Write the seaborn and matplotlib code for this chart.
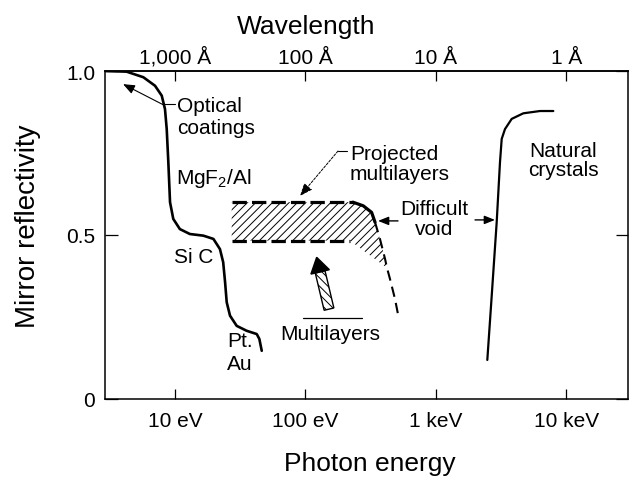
import numpy as np
import pandas as pd
import matplotlib
matplotlib.use("Agg")
import matplotlib.pyplot as plt
import seaborn as sns
from matplotlib.patches import Polygon
from matplotlib.transforms import IdentityTransform
from matplotlib.ticker import NullLocator

# ---------------- data ----------------
coat_energy = [2.91, 4.26, 5.72, 7.03, 7.91, 8.38, 8.64, 8.89, 9.16, 9.70, 10.9, 13.0,
               16.5, 19.7, 22.1, 23.4, 24.2, 24.9, 26.4, 29.7, 35.4, 42.3, 44.3, 46.2]
coat_refl = [1.0, 0.998, 0.981, 0.955, 0.925, 0.884, 0.823, 0.722, 0.600, 0.549, 0.518, 0.503,
             0.498, 0.488, 0.457, 0.417, 0.356, 0.295, 0.254, 0.223, 0.208, 0.198, 0.183, 0.147]

crys_energy = [2473, 2673, 2918, 3093, 3188, 3379, 3803, 4667, 6266, 7924]
crys_refl = [0.119, 0.315, 0.539, 0.722, 0.793, 0.823, 0.854, 0.871, 0.878, 0.878]

proj_top_energy = [27.2, 231, 277, 321, 341, 372, 407, 421, 444, 485, 514]
proj_top_refl = [0.60, 0.60, 0.589, 0.569, 0.539, 0.488, 0.427, 0.40, 0.366, 0.305, 0.254]
proj_bot_energy = [27.2, 219, 421]
proj_bot_refl = [0.483, 0.483, 0.40]

energy_ticks = [10, 100, 1000, 10000]
energy_labels = ["10 eV", "100 eV", "1 keV", "10 keV"]
wl_ticks = [1000, 100, 10, 1]
wl_labels = ["1,000 Å", "100 Å", "10 Å", "1 Å"]
refl_ticks = [0, 0.5, 1.0]
refl_labels = ["0", "0.5", "1.0"]

# ---------------- style ----------------
sns.set_style("ticks")
plt.rcParams["font.family"] = ["Liberation Sans", "DejaVu Sans"]
plt.rcParams["mathtext.default"] = "regular"
plt.rcParams["hatch.linewidth"] = 0.7
plt.rcParams["text.color"] = "black"
plt.rcParams["axes.labelcolor"] = "black"
plt.rcParams["xtick.color"] = "black"
plt.rcParams["ytick.color"] = "black"

fig = plt.figure(figsize=(6.29, 4.81), dpi=100)
ax = fig.add_axes([105 / 629, 81 / 481, 523 / 629, 328 / 481])
ax.set_xscale("log")
ax.set_xlim(2.908, 29600)
ax.set_ylim(0, 1)

# ---------------- curves ----------------
coat_df = pd.DataFrame({"energy": coat_energy, "refl": coat_refl})
crys_df = pd.DataFrame({"energy": crys_energy, "refl": crys_refl})
sns.lineplot(data=coat_df, x="energy", y="refl", ax=ax, color="black", lw=1.9,
             sort=False, estimator=None)
sns.lineplot(data=crys_df, x="energy", y="refl", ax=ax, color="black", lw=1.6,
             sort=False, estimator=None)

# projected multilayer band (hatched)
k = proj_top_energy.index(proj_bot_energy[-1])
poly_e = proj_top_energy[:k + 1] + proj_bot_energy[::-1][1:]
poly_r = proj_top_refl[:k + 1] + proj_bot_refl[::-1][1:]
ax.fill(poly_e, poly_r, facecolor="none", edgecolor="black", hatch="////", lw=0)

ax.plot(proj_top_energy[0:2], proj_top_refl[0:2], color="black", lw=2.3,
        linestyle=(0, (4.5, 1.6)), solid_capstyle="butt")
ax.plot(proj_top_energy[1:5], proj_top_refl[1:5], color="black", lw=2.3)
ax.plot(proj_top_energy[4:], proj_top_refl[4:], color="black", lw=1.5,
        linestyle=(0, (5, 3)))
ax.plot(proj_bot_energy[0:2], proj_bot_refl[0:2], color="black", lw=2.3,
        linestyle=(0, (4.5, 1.6)), solid_capstyle="butt")

# ---------------- axes / ticks ----------------
for s in ax.spines.values():
    s.set_color("black")
    s.set_linewidth(1.1)
ax.set_xticks(energy_ticks, labels=energy_labels)
ax.xaxis.set_minor_locator(NullLocator())
ax.set_yticks(refl_ticks, labels=refl_labels)
ax.tick_params(axis="x", direction="in", length=7, width=0.9, labelsize=15, pad=9,
               colors="black")
ax.tick_params(axis="y", direction="in", length=9, width=0.9, labelsize=15, pad=7,
               right=True, colors="black")

sec = ax.secondary_xaxis("top", functions=(lambda e: 1e4 / np.asarray(e, float),
                                           lambda w: 1e4 / np.asarray(w, float)))
sec.set_xticks(wl_ticks, labels=wl_labels)
sec.xaxis.set_minor_locator(NullLocator())
sec.tick_params(direction="in", length=7, width=0.9, labelsize=15, pad=3, colors="black")
sec.spines["top"].set_linewidth(1.1)
sec.spines["top"].set_color("black")
fig.text(306 / 629, 1 - 15 / 481, "Wavelength", fontsize=19, ha="center", va="top",
         color="black")

ax.set_xlabel("Photon energy", fontsize=19, va="top", color="black")
ax.xaxis.set_label_coords(0.506, -0.160)
ax.set_ylabel("Mirror reflectivity", fontsize=20, color="black")
ax.yaxis.set_label_coords(-0.122, 0.529)

# ---------------- annotations ----------------
fs = 15
ax.text(10.35, 0.924, "Optical\ncoatings", ha="left", va="top", fontsize=fs)
ax.plot([7.95, 10.0], [0.899, 0.899], color="black", lw=0.8)
ax.annotate("", xy=(4.0, 0.960), xytext=(7.95, 0.899),
            arrowprops=dict(arrowstyle="-|>,head_length=0.5,head_width=0.2",
                            color="black", lw=0.8, mutation_scale=14, shrinkA=0, shrinkB=0))
ax.text(10.18, 0.71, "MgF$_2$/Al", ha="left", va="top", fontsize=fs)
ax.text(9.74, 0.463, "Si C", ha="left", va="top", fontsize=fs)
ax.text(25.0, 0.207, "Pt.", ha="left", va="top", fontsize=fs)
ax.text(25.0, 0.137, "Au", ha="left", va="top", fontsize=fs)

ax.text(219, 0.777, "Projected\nmultilayers", ha="left", va="top", fontsize=fs,
        linespacing=1.08)
ax.plot([177.4, 208], [0.756, 0.756], color="black", lw=0.8)
ax.annotate("", xy=(90.8, 0.619), xytext=(177.4, 0.756),
            arrowprops=dict(arrowstyle="-|>,head_length=0.55,head_width=0.22",
                            color="black", lw=0.7, linestyle=(0, (2.5, 1.5)),
                            mutation_scale=14, shrinkA=0, shrinkB=0))

ax.text(965, 0.61, "Difficult\nvoid", ha="center", va="top", fontsize=fs, linespacing=1.1)
ax.annotate("", xy=(359.6, 0.543), xytext=(511.7, 0.543),
            arrowprops=dict(arrowstyle="-|>,head_length=0.45,head_width=0.18",
                            color="black", lw=1.0, mutation_scale=14, shrinkA=0, shrinkB=0))
ax.annotate("", xy=(2831, 0.546), xytext=(1991, 0.546),
            arrowprops=dict(arrowstyle="-|>,head_length=0.45,head_width=0.18",
                            color="black", lw=1.0, mutation_scale=14, shrinkA=0, shrinkB=0))

ax.text(9398, 0.787, "Natural\ncrystals", ha="center", va="top", fontsize=fs,
        linespacing=1.02)

ax.text(154, 0.229, "Multilayers", ha="center", va="top", fontsize=fs)
ax.plot([95.7, 271], [0.247, 0.247], color="black", lw=0.9)

# fat hatched arrow for "Multilayers" (built in display space)
tail = ax.transData.transform((151.4, 0.274))
tip = ax.transData.transform((121.8, 0.432))
d = (tip - tail) / np.hypot(*(tip - tail))
n = np.array([-d[1], d[0]])
head_len, head_w, shaft_w = 15, 19, 10
base = tip - d * head_len
shaft = [tail + n * shaft_w / 2, base + n * shaft_w / 2, base - n * shaft_w / 2,
         tail - n * shaft_w / 2]
head = [tip, base + n * head_w / 2, base - n * head_w / 2]
fig.add_artist(Polygon(shaft, closed=True, facecolor="white", edgecolor="black",
                       hatch="\\\\\\\\", lw=1.0, transform=IdentityTransform()))
fig.add_artist(Polygon(head, closed=True, facecolor="black", edgecolor="black",
                       lw=1.0, transform=IdentityTransform()))

fig.savefig("out.png", dpi=100)
